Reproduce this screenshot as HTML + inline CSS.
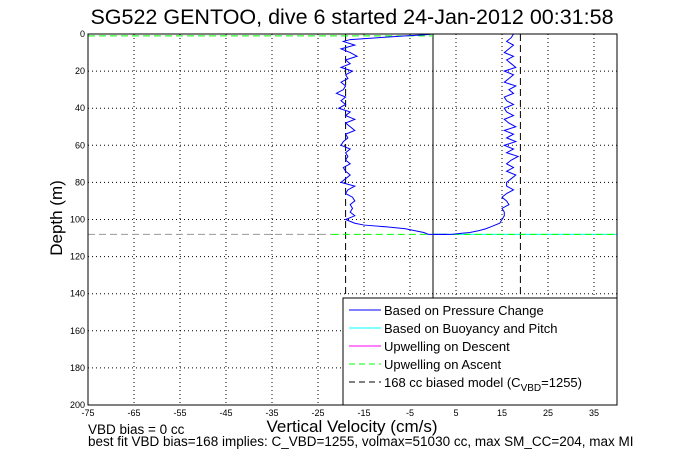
<!DOCTYPE html>
<html><head><meta charset="utf-8"><style>
body{margin:0;background:#fff;}
svg text{font-family:"Liberation Sans",Arial,sans-serif;}
</style></head><body>
<svg id="c" width="681" height="454" xmlns="http://www.w3.org/2000/svg">
<rect width="681" height="454" fill="#fff"/>
<text x="352" y="24" font-size="21.5" text-anchor="middle">SG522 GENTOO, dive 6 started 24-Jan-2012 00:31:58</text>
<g id="grid"></g>
<g id="marks"></g>
<rect x="88" y="34" width="529" height="371" fill="none" stroke="#000" stroke-width="1"/>
<g id="ticks" font-size="9"></g>
<text x="352" y="432" font-size="17" text-anchor="middle">Vertical Velocity (cm/s)</text>
<text transform="translate(62,218) rotate(-90)" font-size="17" text-anchor="middle">Depth (m)</text>
<text x="88" y="434" font-size="13.5">VBD bias = 0 cc</text>
<text x="88" y="446" font-size="13.5">best fit VBD bias=168 implies: C_VBD=1255, volmax=51030 cc, max SM_CC=204, max MI</text>
<g>
<rect x="343" y="298" width="274" height="107" fill="#fff" stroke="#000"/>
<line x1="349" y1="310" x2="381" y2="310" stroke="#00f"/><text x="384" y="315" font-size="13">Based on Pressure Change</text>
<line x1="349" y1="328" x2="381" y2="328" stroke="#0ff"/><text x="384" y="333" font-size="13">Based on Buoyancy and Pitch</text>
<line x1="349" y1="346" x2="381" y2="346" stroke="#f0f"/><text x="384" y="351" font-size="13">Upwelling on Descent</text>
<line x1="349" y1="364" x2="381" y2="364" stroke="#0f0" stroke-dasharray="6,4"/><text x="384" y="369" font-size="13">Upwelling on Ascent</text>
<line x1="349" y1="382" x2="381" y2="382" stroke="#000" stroke-dasharray="6,4"/><text x="384" y="387" font-size="13">168 cc biased model (C<tspan font-size="10" dy="4">VBD</tspan><tspan dy="-4">=1255)</tspan></text>
</g>
</svg>
<script>
const xTicks=[-75,-65,-55,-45,-35,-25,-15,-5,5,15,25,35];
const yTicks=[0,20,40,60,80,100,120,140,160,180,200];
const descDepth=[0,0.5,1,2,3,4,6,8,10,12,14,16,18,20,22,24,26,28,30,32,34,36,38,40,42,44,46,48,50,52,54,56,58,60,62,64,66,68,70,72,74,76,78,80,82,84,86,88,90,92,94,96,98,100,101,102,103,104,105,106,107,108,108];
const descVel=[0,-2,-6,-12,-18,-19.5,-17,-20,-18,-16.5,-19,-18,-20,-17.5,-19,-18.5,-20,-19,-19.5,-21,-19,-20,-19,-20.5,-18,-19,-17,-19,-18,-17,-19,-18.5,-19.5,-20,-18,-19,-18.5,-19,-18,-19.5,-19,-18,-19,-20,-17,-18.5,-19,-17.5,-17,-18,-17.5,-18,-17,-19,-18,-17,-15,-10,-6,-4,-2,-1,3];
const ascDepth=[108,108,107.5,107,106,105,104,103,102,100,98,96,94,92,90,88,86,84,82,80,78,76,74,72,70,68,66,64,62,60,58,56,54,52,50,48,46,44,42,40,38,36,34,32,30,28,26,24,22,20,18,16,14,12,10,8,6,4,2,0];
const ascVel=[0,4,6,8,10,11.5,12.5,13.5,14.5,15,15.5,15.5,15,16.5,16,15,16,17.5,16,16,17,18,16,17.5,16,17,18.5,16,17.5,15.5,18,16,17.5,15.5,18,16.5,15.5,17.5,16,15.5,17.5,16,15.5,17.5,16.5,18,15.5,16.5,17.5,15.5,18,17,16,17.5,15.5,16.5,17.5,16,17,17.5];
const modelVel=[-19,19];
const bottomDepth=[108];
const surfaceDepth=[1];
const X=v=>88+(v+75)*529/115, Y=d=>34+d*371/200;
const NS='http://www.w3.org/2000/svg';
function mk(p,t,a){const e=document.createElementNS(NS,t);for(const k in a)e.setAttribute(k,a[k]);document.getElementById(p).appendChild(e);return e;}
xTicks.forEach(v=>{
 const g=mk('grid','line',{x1:X(v),x2:X(v),y1:34,y2:405,stroke:'#000','stroke-dasharray':'1,3'});
 
 
 const t=mk('ticks','text',{x:X(v),y:416,'text-anchor':'middle'});t.textContent=v;
 
 
});
yTicks.forEach(v=>{
 const g=mk('grid','line',{x1:88,x2:617,y1:Y(v),y2:Y(v),stroke:'#000','stroke-dasharray':'1,3'});
 
 
 const t=mk('ticks','text',{x:85,y:Y(v)+3,'text-anchor':'end'});t.textContent=v;
 
 
});
const zl=mk('marks','line',{x1:X(0),x2:X(0),y1:34,y2:405,stroke:'#000'});


modelVel.forEach(v=>{
 const l=mk('marks','line',{x1:X(v),x2:X(v),y1:34,y2:405,stroke:'#000','stroke-dasharray':'7,4'});
 
 
});
bottomDepth.forEach(d=>{
 const g=mk('marks','line',{x1:88,x2:X(-22),y1:Y(d),y2:Y(d),stroke:'#999','stroke-dasharray':'7,4'});
 
 
 const c=mk('marks','line',{x1:X(0),x2:617,y1:Y(d),y2:Y(d),stroke:'#0ff'});
 
 
 const l=mk('marks','line',{x1:X(-22),x2:617,y1:Y(d),y2:Y(d),stroke:'#0f0','stroke-dasharray':'7,4'});
 
 
});
surfaceDepth.forEach(d=>{
 const l=mk('marks','line',{x1:88,x2:X(0),y1:Y(d),y2:Y(d),stroke:'#0f0','stroke-dasharray':'7,4'});
 
 
});
const pd=descDepth.map((d,i)=>X(descVel[i])+','+Y(d)).join(' ');
const p1=mk('marks','polyline',{points:pd,fill:'none',stroke:'#00f'});


const pa=ascDepth.map((d,i)=>X(ascVel[i])+','+Y(d)).join(' ');
const p2=mk('marks','polyline',{points:pa,fill:'none',stroke:'#00f'});


</script>
</body></html>
